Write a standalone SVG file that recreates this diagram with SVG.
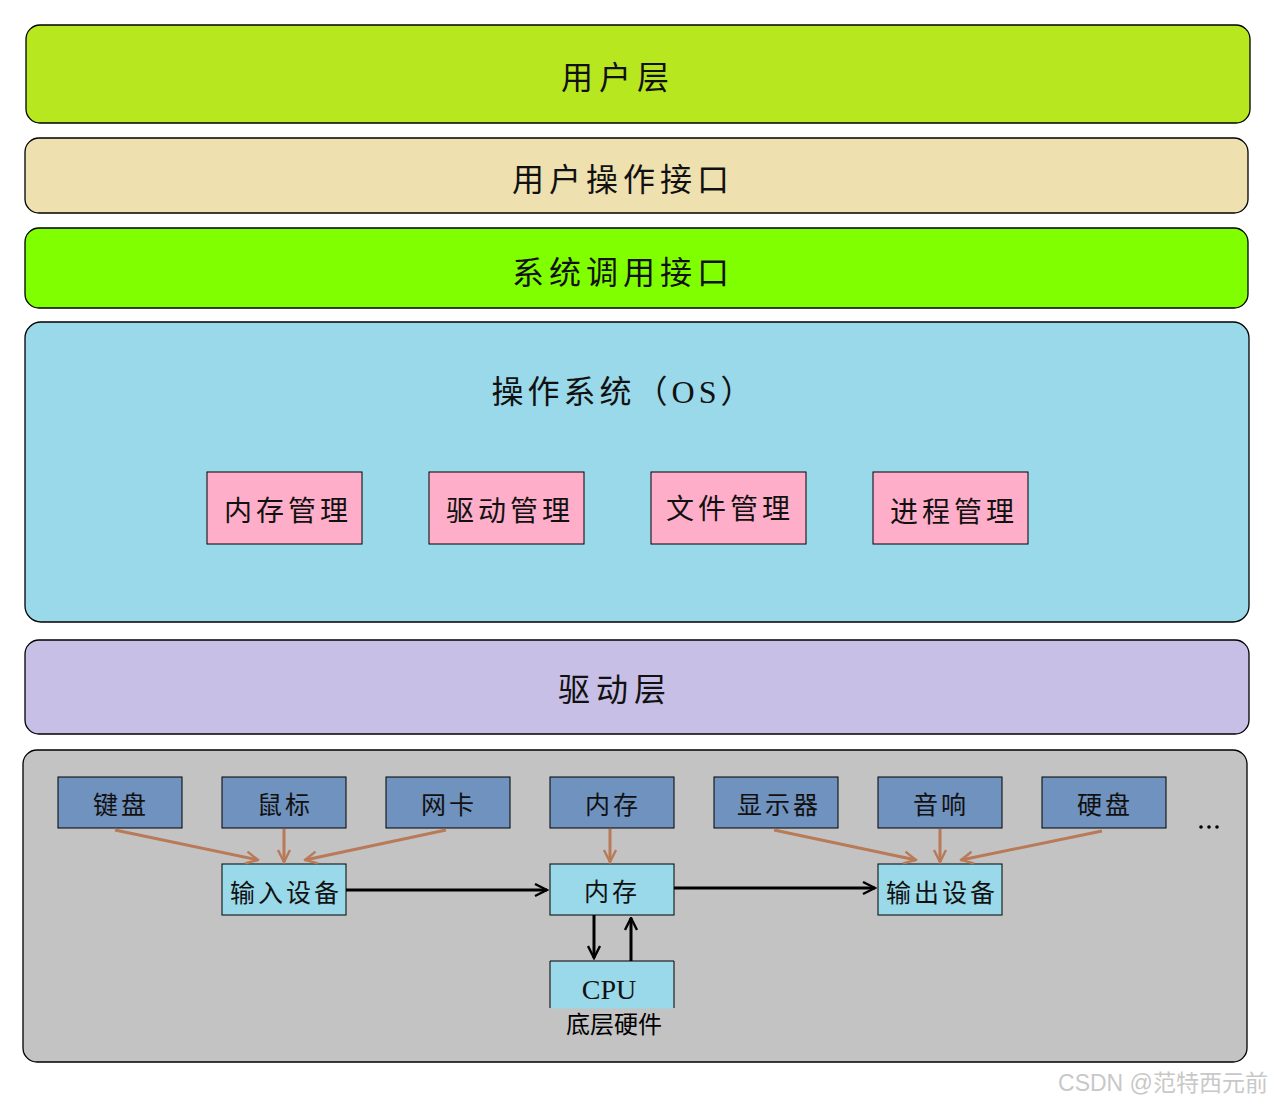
<svg xmlns="http://www.w3.org/2000/svg" width="1275" height="1104" viewBox="0 0 1275 1104">
<style>
.layer{stroke:#000;stroke-width:1.3}
.t{font-family:"Liberation Serif","Noto Sans CJK SC",serif;fill:#111;text-anchor:middle}
.big{font-size:32px;letter-spacing:6px}
.mid{font-size:28px;letter-spacing:4px}
.sm{font-size:25px;letter-spacing:3px}
.pink{fill:#FFAEC9;stroke:#000;stroke-width:1}
.blue{fill:#7092BE;stroke:#000;stroke-width:1}
.cyan{fill:#99D9EA;stroke:#000;stroke-width:1}
.br{stroke:#B97A57;stroke-width:3;fill:none}
.bk{stroke:#000;stroke-width:3;fill:none}
</style>
<defs>
<marker id="ab" viewBox="0 0 10 10" refX="9" refY="5" markerWidth="5" markerHeight="5" orient="auto" markerUnits="strokeWidth"><path d="M1,1 L9,5 L1,9" fill="none" stroke="#B97A57" stroke-width="1.6"/></marker>
<marker id="ak" viewBox="0 0 10 10" refX="9" refY="5" markerWidth="5" markerHeight="5" orient="auto" markerUnits="strokeWidth"><path d="M1,1 L9,5 L1,9" fill="none" stroke="#000" stroke-width="1.6"/></marker>
</defs>
<rect width="1275" height="1104" fill="#fff"/>
<g id="user-layer"><rect class="layer" x="26" y="25" width="1224" height="98" rx="14" fill="#B7E71F"/><text class="t big" x="618" y="89">用户层</text></g>
<g id="user-interface"><rect class="layer" x="25" y="138" width="1223" height="75" rx="14" fill="#EEE0AF"/><text class="t big" x="623" y="191" style="letter-spacing:5px">用户操作接口</text></g>
<g id="syscall"><rect class="layer" x="25" y="228" width="1223" height="80" rx="14" fill="#80FF00"/><text class="t big" x="623" y="284" style="letter-spacing:5px">系统调用接口</text></g>
<g id="os"><rect class="layer" x="25" y="322" width="1224" height="300" rx="16" fill="#99D9EA"/><text class="t" x="624" y="403" font-size="32" style="letter-spacing:4px">操作系统（OS）</text></g>
<g id="mem-mgmt"><rect class="pink" x="207" y="472" width="155" height="72"/><text class="t mid" x="288" y="521">内存管理</text></g>
<g id="drv-mgmt"><rect class="pink" x="429" y="472" width="155" height="72"/><text class="t mid" x="510" y="521">驱动管理</text></g>
<g id="file-mgmt"><rect class="pink" x="651" y="472" width="155" height="72"/><text class="t mid" x="730" y="519">文件管理</text></g>
<g id="proc-mgmt"><rect class="pink" x="873" y="472" width="155" height="72"/><text class="t mid" x="954" y="522">进程管理</text></g>
<g id="driver-layer"><rect class="layer" x="25" y="640" width="1224" height="94" rx="14" fill="#C8BFE7"/><text class="t big" x="615" y="701">驱动层</text></g>
<g id="hardware"><rect class="layer" x="23" y="750" width="1224" height="312" rx="14" fill="#C3C3C3"/><text x="614" y="1033" font-family="'Noto Sans CJK SC',sans-serif" font-size="24" fill="#000" text-anchor="middle">底层硬件</text></g>
<g id="keyboard"><rect class="blue" x="58" y="777" width="124" height="51"/><text class="t sm" x="121" y="814">键盘</text></g>
<g id="mouse"><rect class="blue" x="222" y="777" width="124" height="51"/><text class="t sm" x="285" y="814">鼠标</text></g>
<g id="nic"><rect class="blue" x="386" y="777" width="124" height="51"/><text class="t sm" x="449" y="814">网卡</text></g>
<g id="memory-dev"><rect class="blue" x="550" y="777" width="124" height="51"/><text class="t sm" x="613" y="814">内存</text></g>
<g id="display"><rect class="blue" x="714" y="777" width="124" height="51"/><text class="t sm" x="779" y="814">显示器</text></g>
<g id="speaker"><rect class="blue" x="878" y="777" width="124" height="51"/><text class="t sm" x="941" y="814">音响</text></g>
<g id="disk"><rect class="blue" x="1042" y="777" width="124" height="51"/><text class="t sm" x="1105" y="814">硬盘</text></g>
<g id="ellipsis"><circle cx="1201" cy="827" r="1.8" fill="#000"/><circle cx="1209" cy="827" r="1.8" fill="#000"/><circle cx="1217" cy="827" r="1.8" fill="#000"/></g>
<g id="input-dev"><rect class="cyan" x="222" y="864" width="124" height="51"/><text class="t sm" x="286" y="902">输入设备</text></g>
<g id="memory"><rect class="cyan" x="550" y="864" width="124" height="51"/><text class="t sm" x="612" y="901">内存</text></g>
<g id="output-dev"><rect class="cyan" x="878" y="864" width="124" height="51"/><text class="t sm" x="942" y="902">输出设备</text></g>
<g id="cpu"><rect x="550.5" y="961.5" width="123" height="47" fill="#99D9EA"/><path d="M550,1008 V961 H674 V1008" fill="none" stroke="#000" stroke-width="1"/><text class="t" x="609" y="999" font-size="28">CPU</text></g>
<g id="connectors">
<line class="br" x1="115" y1="830" x2="258" y2="860" marker-end="url(#ab)"/>
<line class="br" x1="284" y1="829" x2="284" y2="862" marker-end="url(#ab)"/>
<line class="br" x1="446" y1="830" x2="305" y2="860" marker-end="url(#ab)"/>
<line class="br" x1="610" y1="829" x2="610" y2="862" marker-end="url(#ab)"/>
<line class="br" x1="774" y1="830" x2="916" y2="860" marker-end="url(#ab)"/>
<line class="br" x1="940" y1="829" x2="940" y2="862" marker-end="url(#ab)"/>
<line class="br" x1="1102" y1="831" x2="961" y2="860" marker-end="url(#ab)"/>
<line class="bk" x1="346" y1="890" x2="547" y2="890" marker-end="url(#ak)"/>
<line class="bk" x1="674" y1="888" x2="875" y2="888" marker-end="url(#ak)"/>
<line class="bk" x1="594" y1="915" x2="594" y2="958" marker-end="url(#ak)"/>
<line class="bk" x1="631" y1="961" x2="631" y2="918" marker-end="url(#ak)"/>
</g>
<text x="1163" y="1091" font-family="'Liberation Sans','Noto Sans CJK SC',sans-serif" font-size="23" fill="#C8C8C8" text-anchor="middle">CSDN @范特西元前</text>
</svg>
